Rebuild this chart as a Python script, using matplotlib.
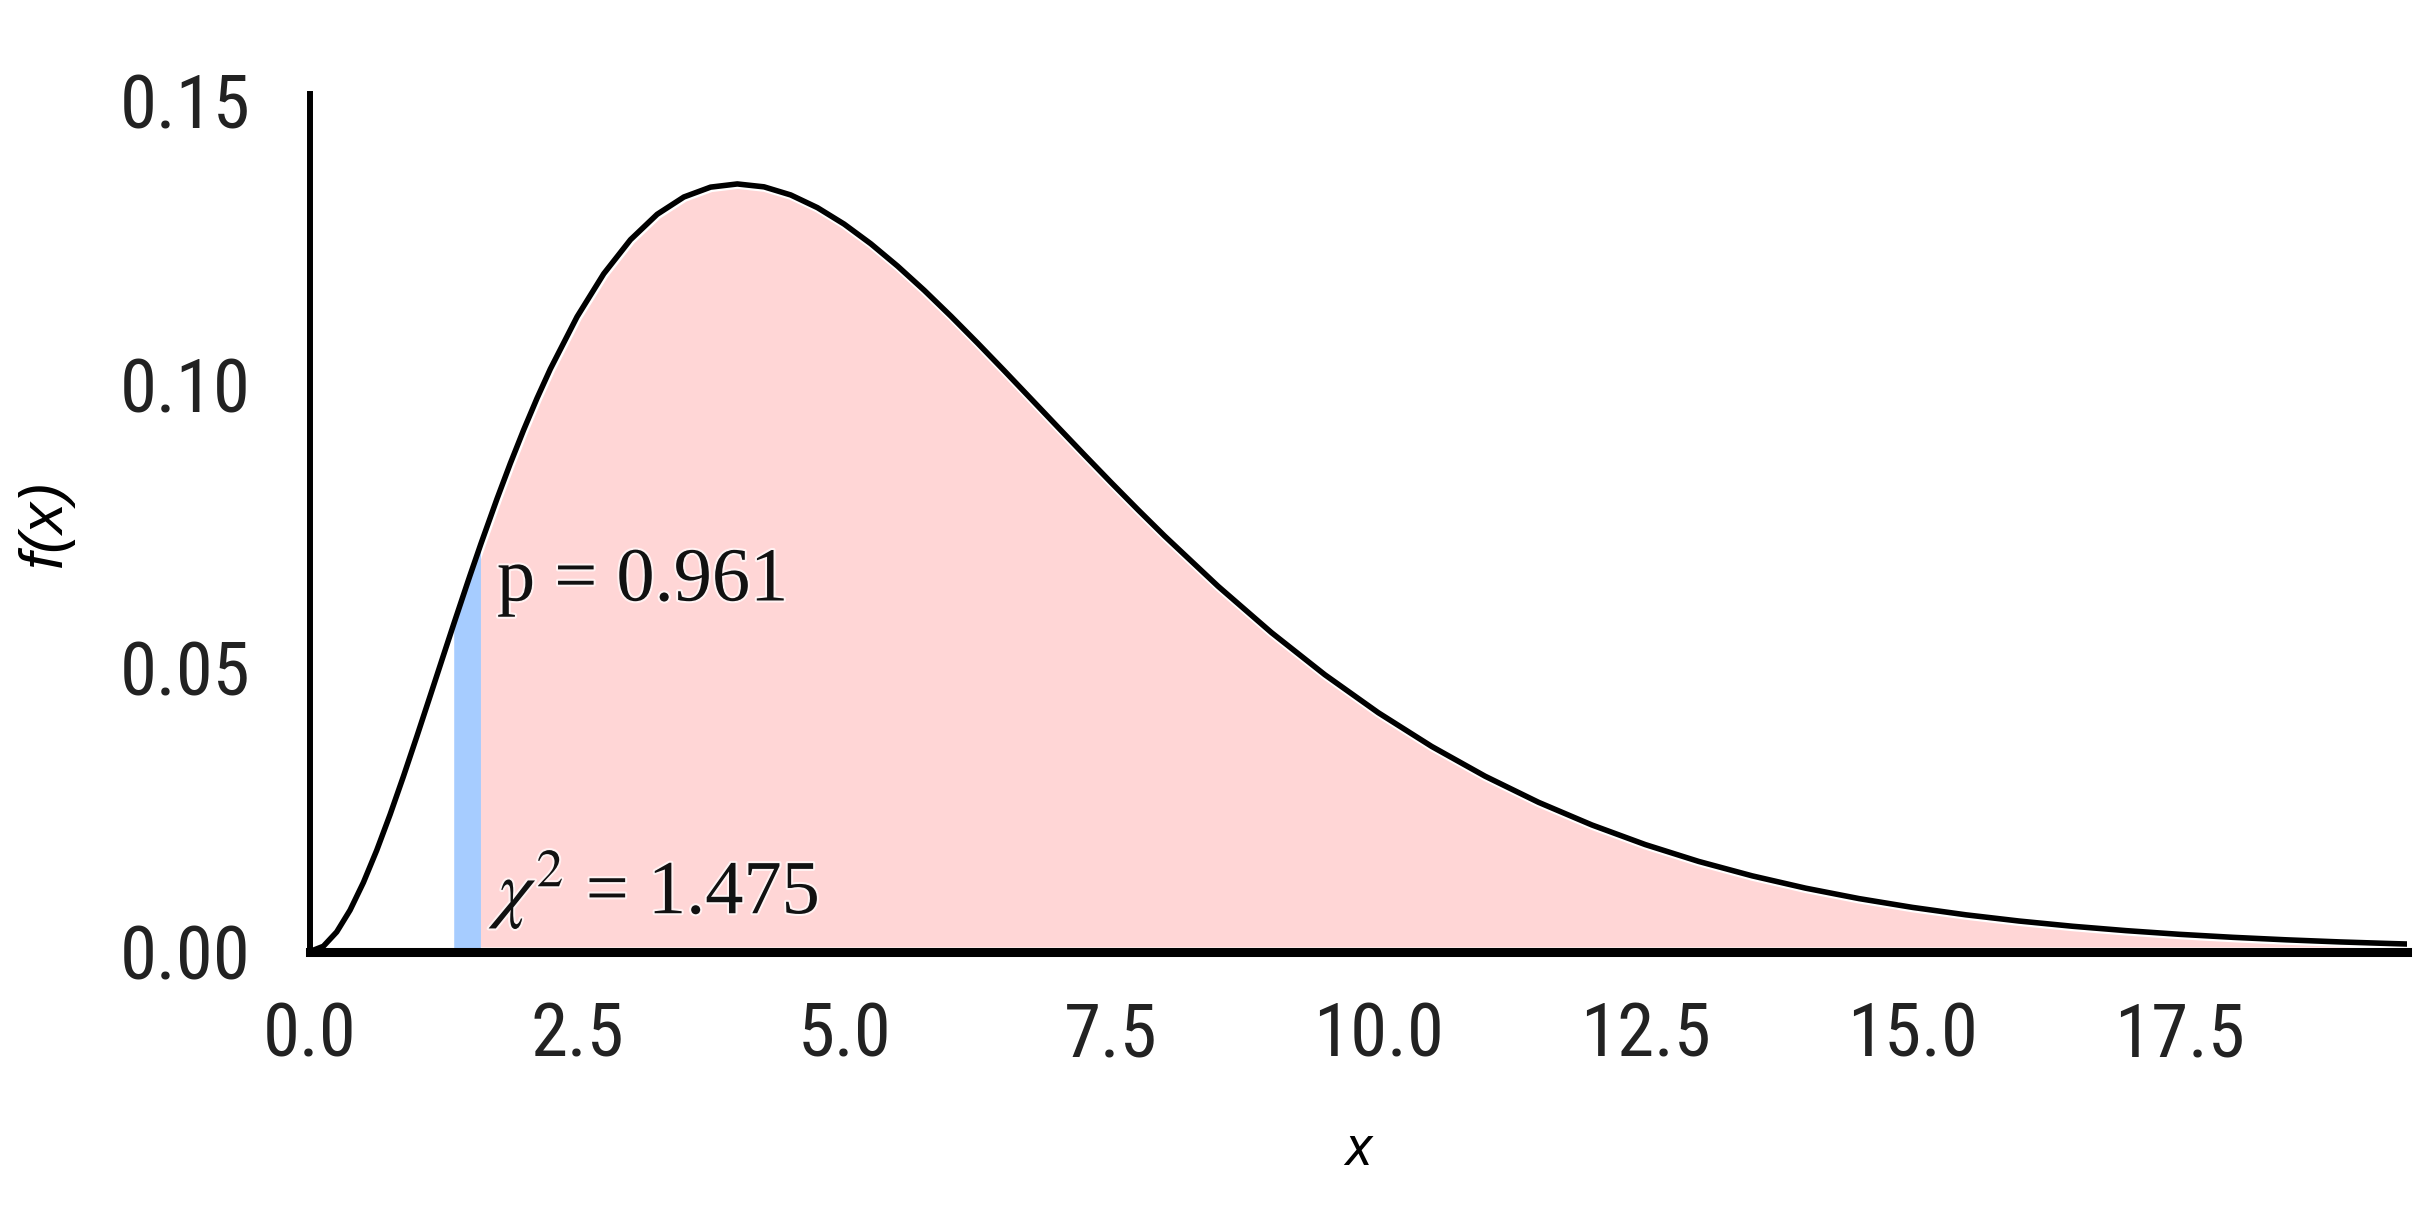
import os
import matplotlib
matplotlib.use("Agg")
import matplotlib.pyplot as plt
import matplotlib.patheffects as pe
from matplotlib import font_manager
from matplotlib.font_manager import FontProperties
import numpy as np

# ---- data (chi-square density, df = 6) ----
x_vals = [0.0, 0.125, 0.25, 0.375, 0.5, 0.625, 0.75, 0.875, 1.0, 1.125, 1.25, 1.35, 1.475, 1.5,
          1.6, 1.75, 1.875, 2.0, 2.125, 2.25, 2.5, 2.75, 3.0, 3.25, 3.5, 3.75, 4.0, 4.25, 4.5,
          4.75, 5.0, 5.25, 5.5, 5.75, 6.0, 6.25, 6.5, 6.75, 7.0, 7.25, 7.5, 7.75, 8.0, 8.5,
          9.0, 9.5, 10.0, 10.5, 11.0, 11.5, 12.0, 12.5, 13.0, 13.5, 14.0, 14.5, 15.0, 15.5,
          16.0, 16.5, 17.0, 17.5, 18.0, 18.5, 19.0, 19.5, 19.63]
y_vals = [0.0, 0.00092, 0.00345, 0.00729, 0.01217, 0.01786, 0.02416, 0.03090, 0.03791, 0.04507,
          0.05227, 0.05800, 0.06504, 0.06643, 0.07189, 0.07979, 0.08605, 0.09197, 0.09754,
          0.10272, 0.11192, 0.11951, 0.12551, 0.12999, 0.13304, 0.13478, 0.13534, 0.13483,
          0.13340, 0.13116, 0.12826, 0.12479, 0.12086, 0.11658, 0.11202, 0.10727, 0.10239,
          0.09744, 0.09248, 0.08755, 0.08268, 0.07791, 0.07326, 0.06441, 0.05624, 0.04880,
          0.04211, 0.03616, 0.03091, 0.02631, 0.02231, 0.01885, 0.01588, 0.01334, 0.01117,
          0.00933, 0.00778, 0.00647, 0.00537, 0.00445, 0.00368, 0.00303, 0.00250, 0.00206,
          0.00169, 0.00139, 0.00132]
chi2_stat = 1.475
p_value = 0.961
band_lo, band_hi = 1.35, 1.60
x_ticks = [0.0, 2.5, 5.0, 7.5, 10.0, 12.5, 15.0, 17.5]
x_tick_labels = ["0.0", "2.5", "5.0", "7.5", "10.0", "12.5", "15.0", "17.5"]
y_ticks = [0.00, 0.05, 0.10, 0.15]
y_tick_labels = ["0.00", "0.05", "0.10", "0.15"]

x = np.array(x_vals)
y = np.array(y_vals)

plt.rcParams["mathtext.fontset"] = "stix"

# ---- font selection: prefer a condensed face (the reference text is narrow) ----
_files = {os.path.basename(f.fname).lower(): f.fname for f in font_manager.fontManager.ttflist}


def pick(cands, fallback):
    for base, size in cands:
        if base in _files:
            return FontProperties(fname=_files[base], size=size), base
    return FontProperties(family=fallback[0], style=fallback[1], size=fallback[2]), "fallback"


tick_fp, tick_name = pick([("liberationsansnarrow-regular.ttf", 54), ("notosans-extracondensed.ttf", 58),
                           ("notosans-condensed.ttf", 54), ("robotocondensed-regular.ttf", 54),
                           ("dejavusanscondensed.ttf", 48)],
                          (["Liberation Sans", "DejaVu Sans"], "normal", 46))
xlab_fp, _ = pick([("liberationsansnarrow-italic.ttf", 40), ("notosans-extracondenseditalic.ttf", 42),
                   ("notosans-condenseditalic.ttf", 40), ("dejavusanscondensed-oblique.ttf", 38)],
                  (["Liberation Sans", "DejaVu Sans"], "italic", 38))
serif_fp = FontProperties(family=["Liberation Serif", "DejaVu Serif"], size=55, math_fontfamily="stix")

fig = plt.figure(figsize=(24.33, 12.14), dpi=100)
ax = fig.add_axes([310 / 2433, 1 - 951.5 / 1214, (2407 - 310) / 2433, (951.5 - 94) / 1214])

pink = "#FFD6D6"
blue = "#A6CCFF"

# right-tail region
tail = x >= chi2_stat
ax.fill_between(x[tail], y[tail], 0, facecolor=pink, edgecolor="white", linewidth=6.5, zorder=1)
# band at the statistic
band = (x >= band_lo) & (x <= band_hi)
ax.fill_between(x[band], y[band], 0, facecolor=blue, edgecolor="none", linewidth=0, zorder=2)
# density curve
ax.plot(x, y, color="black", linewidth=4.0, zorder=3, solid_joinstyle="round")

ax.set_xlim(0, 19.63)
ax.set_ylim(0, 0.1512)
ax.set_xticks(x_ticks)
ax.set_xticklabels(x_tick_labels)
ax.set_yticks(y_ticks)
ax.set_yticklabels(y_tick_labels)
ax.tick_params(axis="both", length=0)
ax.tick_params(axis="y", pad=43)
ax.tick_params(axis="x", pad=35)
for lab in ax.get_xticklabels() + ax.get_yticklabels():
    lab.set_fontproperties(tick_fp)
    lab.set_color("#222222")

for side in ["top", "right"]:
    ax.spines[side].set_visible(False)
ax.spines["left"].set_linewidth(4.3)
ax.spines["bottom"].set_linewidth(6.5)
ax.spines["left"].set_zorder(4)
ax.spines["bottom"].set_zorder(4)

ax.set_xlabel("x", fontproperties=xlab_fp, va="center")
ax.xaxis.set_label_coords(0.5, (951.5 - 1150) / (951.5 - 94))
ax.set_ylabel("f(x)", fontsize=44, fontstyle="italic", family=["Liberation Sans", "DejaVu Sans"], va="center")
ax.yaxis.set_label_coords((45 - 310) / (2407 - 310), 0.5)

halo = [pe.withStroke(linewidth=3, foreground="white", alpha=0.7)]
ax.text(1.75, 0.0619, f"p = {p_value:.3f}", fontproperties=serif_fp,
        ha="left", va="baseline", color="#111111", zorder=5, path_effects=halo)
ax.text(1.75, 0.0067, r"$\chi^{2}$ = " + f"{chi2_stat:.3f}", fontproperties=serif_fp,
        ha="left", va="baseline", color="#111111", zorder=5, path_effects=halo)

fig.savefig("out.png", dpi=100, facecolor="white")
